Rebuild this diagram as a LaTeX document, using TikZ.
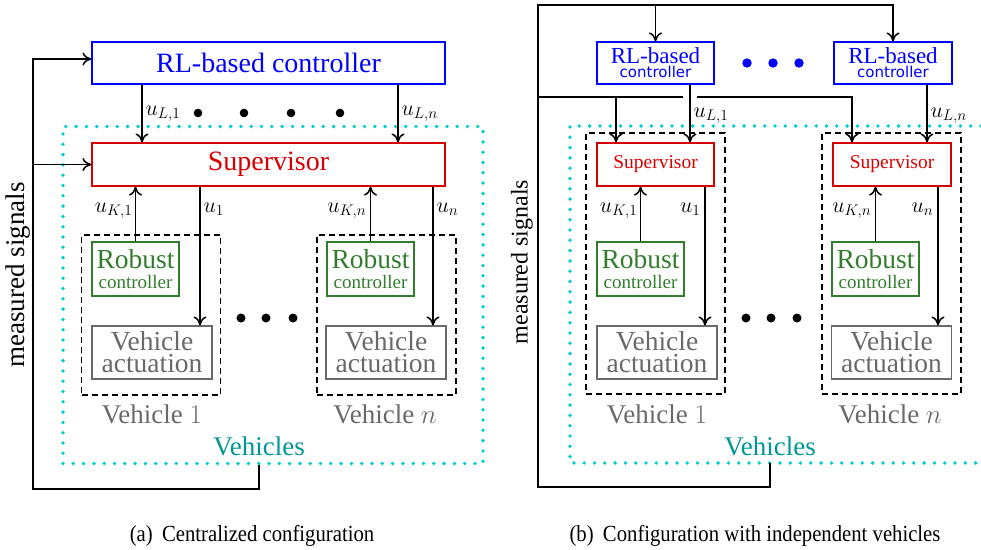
\RequirePackage{fix-cm}
\documentclass[tikz,border=0pt]{standalone}
\usepackage{graphicx}
\usepackage{fontspec}
\setmainfont{Liberation Serif}
\newfontfamily\dejavu{DejaVu Sans}
\usetikzlibrary{arrows.meta,positioning}
\definecolor{rlblue}{RGB}{0,0,255}
\definecolor{supred}{RGB}{215,0,0}
\definecolor{robgreen}{RGB}{50,125,45}
\definecolor{actgray}{RGB}{105,105,105}
\definecolor{vehteal}{RGB}{0,150,150}
\definecolor{dotcyan}{RGB}{0,205,208}

\begin{document}
\begin{tikzpicture}[x=1pt,y=-1pt,line width=1.2pt,
    >={Computer Modern Rightarrow[length=9pt,width=13pt,line width=1.5pt]},
    box/.style={draw,inner sep=0pt,align=center},
    rlbox/.style={box,draw=rlblue,text=rlblue},
    supbox/.style={box,draw=supred,text=supred},
    robbox/.style={box,draw=robgreen,text=robgreen,minimum width=87pt,minimum height=54pt,
        font=\fontsize{27.5}{20}\selectfont},
    actbox/.style={box,draw=actgray,text=actgray,minimum width=120pt,minimum height=53pt,
        font=\fontsize{27.5}{22}\selectfont},
    vehbox/.style={draw,line width=1.3pt,dash pattern=on 6pt off 4pt,minimum width=139pt},
    vlabel/.style={anchor=base,text=actgray,font=\fontsize{27}{30}\selectfont},
    vslabel/.style={anchor=base,text=vehteal,font=\fontsize{27}{30}\selectfont},
    cyandots/.style={draw=dotcyan,line width=3.8pt,line cap=round,dash pattern=on 0pt off 10.3pt},
    flow/.style={->,line width=1.4pt},
    sig/.style={font=\fontsize{22}{24}\selectfont,inner sep=1pt},
    capt/.style={anchor=base,font=\fontsize{23}{26}\selectfont}]
\useasboundingbox (0,0) rectangle (981,549);

% (a) centralized
\node[vehbox,minimum height=160pt] (vehA) at (151,315) {};
\node[vehbox,minimum height=160pt] (vehB) at (386.5,315) {};
\node[cyandots,minimum width=420pt,minimum height=337pt] (vehsL) at (273,295) {};
\node[rlbox,minimum width=353pt,minimum height=42pt,font=\fontsize{28}{30}\selectfont] (rl) at (268.5,63) {RL-based controller};
\node[supbox,minimum width=353pt,minimum height=43pt,font=\fontsize{28}{30}\selectfont] (sup) at (268.5,164.5) {Supervisor};
\node[robbox] (robA) at (135.5,269) {Robust\\{\fontsize{19}{20}\selectfont controller}};
\node[robbox] (robB) at (370.5,269) {Robust\\{\fontsize{19}{20}\selectfont controller}};
\node[actbox] (actA) at (152,352.5) {Vehicle\\actuation};
\node[actbox] (actB) at (386,352.5) {Vehicle\\actuation};
\node[vlabel] (lbA) at (152,423) {Vehicle $1$};
\node[vlabel] (lbB) at (385,423) {Vehicle $n$};
\node[vslabel] (vsL) at (259,455) {Vehicles};
\node[rotate=90,font=\fontsize{27}{30}\selectfont] (msL) at (18.5,275) {measured signals};

\draw[flow] ([xshift=-126.5pt]rl.south) -- ([xshift=-126.5pt]sup.north);
\draw[flow] ([xshift=129.5pt]rl.south) -- ([xshift=129.5pt]sup.north);
\node[sig,anchor=base west] (uLa) at (144,115) {$u_{L,1}$};
\node[sig,anchor=base west] (uLb) at (400,115) {$u_{L,n}$};
\foreach \x in {198,244,291,340}
    \fill (\x,113) circle (4.3pt);
\draw[flow] (robA.north) -- (robA.north |- sup.south);
\draw[flow] ([xshift=48pt]actA.north |- sup.south) -- ([xshift=48pt]actA.north);
\draw[flow] (robB.north) -- (robB.north |- sup.south);
\draw[flow] ([xshift=47pt]actB.north |- sup.south) -- ([xshift=47pt]actB.north);
\node[sig,anchor=base east] (uKa) at (134,212) {$u_{K,1}$};
\node[sig,anchor=base west] (ua) at (202,212) {$u_1$};
\node[sig,anchor=base east] (uKb) at (368,212) {$u_{K,n}$};
\node[sig,anchor=base west] (ub) at (435,212) {$u_n$};
\foreach \x in {241,266,293}
    \fill (\x,318) circle (4.5pt);

\coordinate (mL) at (33,489);
\draw[flow] (vsL |- vehsL.south) |- (mL) |- ([yshift=4pt]rl.west);
\draw[flow] (mL |- sup.west) -- (sup.west);

% (b) independent vehicles
\node[vehbox,minimum height=261pt] (vehC) at (655.5,263.5) {};
\node[vehbox,minimum height=261pt] (vehD) at (891.5,263.5) {};
\draw[cyandots] (981,126) -| (570,463) -- (981,463);
\node[rlbox,minimum width=117pt,minimum height=42pt,font=\fontsize{23}{14}\selectfont] (rlC) at (655.5,63) {RL-based\\{\dejavu\fontsize{15}{14}\selectfont controller}};
\node[rlbox,minimum width=118pt,minimum height=42pt,font=\fontsize{23}{14}\selectfont] (rlD) at (893,63) {RL-based\\{\dejavu\fontsize{15}{14}\selectfont controller}};
\node[supbox,minimum width=117pt,minimum height=43pt,font=\fontsize{19.5}{22}\selectfont] (supC) at (655.5,164.5) {Supervisor};
\node[supbox,minimum width=118pt,minimum height=43pt,font=\fontsize{19.5}{22}\selectfont] (supD) at (892,164.5) {Supervisor};
\node[robbox] (robC) at (640.5,269) {Robust\\{\fontsize{19}{20}\selectfont controller}};
\node[robbox] (robD) at (875.5,269) {Robust\\{\fontsize{19}{20}\selectfont controller}};
\node[actbox] (actC) at (657,352.5) {Vehicle\\actuation};
\node[actbox] (actD) at (891.5,352.5) {Vehicle\\actuation};
\node[vlabel] (lbC) at (657,423) {Vehicle $1$};
\node[vlabel] (lbD) at (890,423) {Vehicle $n$};
\node[vslabel] (vsR) at (770,455) {Vehicles};
\node[rotate=90,font=\fontsize{24}{30}\selectfont] (msR) at (522,262) {measured signals};
\foreach \x in {747,773,799}
    \fill[rlblue] (\x,63) circle (4.7pt);
\foreach \x in {746,771,797}
    \fill (\x,318) circle (4.5pt);

\coordinate (botR) at (538,487);
\coordinate (topR) at (538,5);
\coordinate (midR) at (538,97);
\draw[flow] (vsR |- 0,463) |- (botR) -- (topR) -| (rlD.north);
\draw[flow] (rlC.north |- topR) -- (rlC.north);
\draw[flow] ([xshift=34.5pt]rlC.south) -- ([xshift=34.5pt]supC.north);
\draw[flow] ([xshift=34pt]rlD.south) -- ([xshift=34pt]rlD.south |- supD.north);
\coordinate (jmp) at ([xshift=34.5pt]rlC.south |- midR);
\draw[flow] (midR) -| ([xshift=-39.5pt]supC.north);
\draw[line width=1.4pt] (midR) -- ([xshift=-7pt]jmp);
\draw[flow] ([xshift=7pt]jmp) -| ([xshift=-40pt]supD.north);
\node[sig,anchor=base west] (uLc) at (692,117) {$u_{L,1}$};
\node[sig,anchor=base west] (uLd) at (929,117) {$u_{L,n}$};
\draw[flow] (robC.north) -- (robC.north |- supC.south);
\draw[flow] ([xshift=48pt]actC.north |- supC.south) -- ([xshift=48pt]actC.north);
\draw[flow] (robD.north) -- (robD.north |- supD.south);
\draw[flow] ([xshift=46.5pt]actD.north |- supD.south) -- ([xshift=46.5pt]actD.north);
\node[sig,anchor=base east] (uKc) at (639,212) {$u_{K,1}$};
\node[sig,anchor=base east] (uc) at (702,212) {$u_1$};
\node[sig,anchor=base east] (uKd) at (873,212) {$u_{K,n}$};
\node[sig,anchor=base east] (ud) at (935,212) {$u_n$};

% captions
\node[capt] (capA) at (252,541) {\scalebox{0.9}[1]{(a)\hspace{0.45em}Centralized configuration}};
\node[capt] (capB) at (755,541) {\scalebox{0.9}[1]{(b)\hspace{0.45em}Configuration with independent vehicles}};
\end{tikzpicture}
\end{document}
